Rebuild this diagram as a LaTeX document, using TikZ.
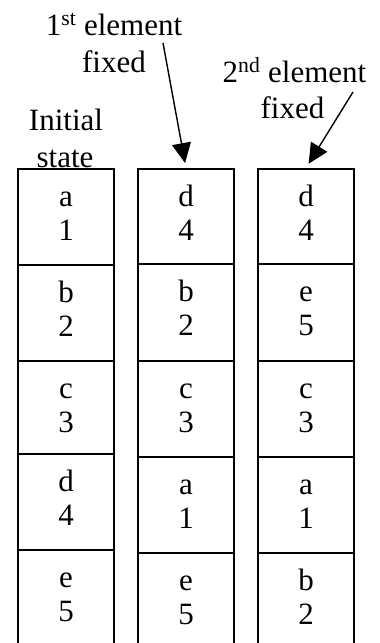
\documentclass[tikz,border=0pt]{standalone}
\usepackage{fontspec}
\setmainfont{Liberation Serif}
\usetikzlibrary{arrows.meta,calc}
\begin{document}
\begin{tikzpicture}[x=1pt,y=-1pt,
  lbl/.style={font=\fontsize{31}{36}\selectfont, anchor=base, inner sep=0pt},
  cellbox/.style={draw, fill=white, line width=1.5pt, minimum width=96pt, inner sep=0pt, anchor=north},
  ptr/.style={line width=1.4pt, shorten >=5pt, -{Triangle[length=20pt,width=19pt]}}]
\useasboundingbox (0,0) rectangle (380,643);
% labels
\node[lbl] (l1a) at (114,35) {1\textsuperscript{st} element};
\node[lbl] (l1b) at (114,72) {fixed};
\node[lbl] (l2a) at (294.5,82) {2\textsuperscript{nd} element};
\node[lbl] (l2b) at (292.5,118) {fixed};
\node[lbl] (l0a) at (66,130) {Initial};
\node[lbl] (l0b) at (65,167.5) {state};
% cells
\begin{scope}
\clip (0,0) rectangle (380,643);
\foreach \nm/\cx/\tp/\hh/\ltr/\dgt in {
 a1/66/168/96/a/1, a2/66/264/96/b/2, a3/66/360/93/c/3, a4/66/453/96/d/4, a5/66/549/110/e/5,
 b1/186/168/95/d/4, b2/186/263/97/b/2, b3/186/360/96/c/3, b4/186/456/96/a/1, b5/186/552/110/e/5,
 c1/306/168/95/d/4, c2/306/263/97/e/5, c3/306/360/96/c/3, c4/306/456/96/a/1, c5/306/552/110/b/2}{
 \node[cellbox, minimum height=\hh pt] (\nm) at (\cx,\tp) {};
 \node[lbl] (\nm-l) at ($(\nm.north)+(0,38)$) {\ltr};
 \node[lbl] (\nm-d) at ($(\nm.north)+(0,72)$) {\dgt};
}
\end{scope}
% arrows
\coordinate (s1) at (163,43);
\coordinate (s2) at (353,92);
\draw[ptr] (s1) -- (b1.north);
\draw[ptr] (s2) -- (c1.north);
\end{tikzpicture}
\end{document}
